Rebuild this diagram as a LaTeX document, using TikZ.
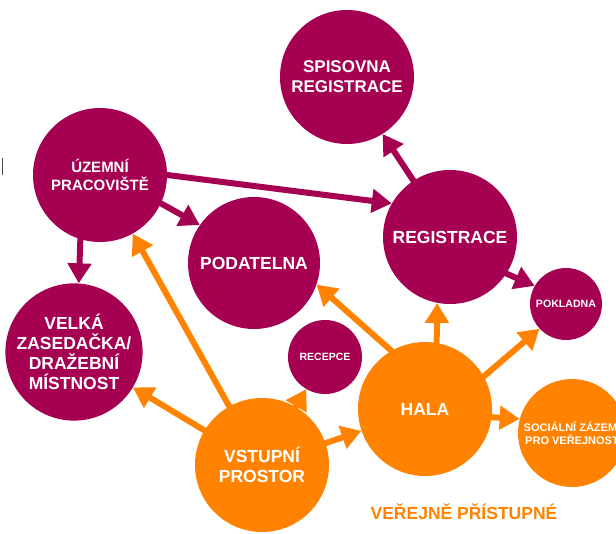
\documentclass[tikz,border=0pt]{standalone}
\usepackage{fontspec}
\setmainfont{Liberation Sans}
\usetikzlibrary{arrows.meta,backgrounds}
\definecolor{plum}{RGB}{165,0,82}
\definecolor{org}{RGB}{255,131,0}
\begin{document}
\begin{tikzpicture}[x=1pt,y=-1pt,
  room/.style={circle,inner sep=0pt,text=white,align=center},
  plumroom/.style={room,fill=plum},
  orgroom/.style={room,fill=org},
  big/.style={font=\bfseries\fontsize{17.5}{20}\selectfont},
  pa/.style={draw=plum,line width=6pt,shorten <=-4pt,-{Triangle[length=20pt,width=23pt]}},
  oa/.style={draw=org,line width=6pt,shorten <=-4pt,-{Triangle[length=20pt,width=23pt]}}]
\useasboundingbox (0,0) rectangle (616,534);
\node[plumroom,minimum size=134pt,font=\bfseries\fontsize{17}{20}\selectfont] (spis) at (347,77) {SPISOVNA\\REGISTRACE};
\node[plumroom,minimum size=134pt,font=\bfseries\fontsize{15}{18}\selectfont] (uz) at (100,175) {ÚZEMNÍ\\PRACOVIŠTĚ};
\node[plumroom,minimum size=132pt,big] (pod) at (254,263) {PODATELNA};
\node[plumroom,minimum size=134pt,big] (reg) at (450,237) {REGISTRACE};
\node[plumroom,minimum size=72pt,font=\bfseries\fontsize{10.6}{12}\selectfont] (pok) at (566,304) {POKLADNA};
\node[plumroom,minimum size=132pt,big] (velka) at (74,352) {VELKÁ\\ZASEDAČKA/\\DRAŽEBNÍ\\MÍSTNOST};
\node[plumroom,minimum size=74pt,font=\bfseries\fontsize{10.5}{12}\selectfont] (rec) at (325,357) {RECEPCE};
\node[orgroom,minimum size=134pt,big] (hala) at (425,409) {HALA};
\node[orgroom,minimum size=108pt,font=\bfseries\fontsize{11}{13}\selectfont] (soc) at (572,433) {SOCIÁLNÍ ZÁZEMÍ\\PRO VEŘEJNOST};
\node[orgroom,minimum size=134pt,big] (vst) at (262,465) {VSTUPNÍ\\PROSTOR};
\node[text=org,big,inner sep=0pt] (pub) at (464,512) {VEŘEJNĚ PŘÍSTUPNÉ};
\fill[black!70] (1.5,158) rectangle (3.2,175);
\begin{scope}[on background layer]
\draw[pa] (uz.0) -- (reg.150);
\draw[pa] (uz.-25) -- (pod.145);
\draw[pa] (uz.-107) -- (velka.86);
\draw[pa] (reg.123) -- (spis.-58);
\draw[pa] (reg.-33) -- (pok.150);
\draw[oa] (vst) -- (uz);
\draw[oa] (vst) -- (velka);
\draw[oa] (vst) -- (rec);
\draw[oa] (vst) -- (hala);
\draw[oa] (hala.120) -- (pod.-19);
\draw[oa] (hala.80) -- (reg.-101);
\draw[oa] (hala.29) -- (pok.-137);
\draw[oa] (hala.-7) -- (soc.165);
\end{scope}
\end{tikzpicture}
\end{document}
